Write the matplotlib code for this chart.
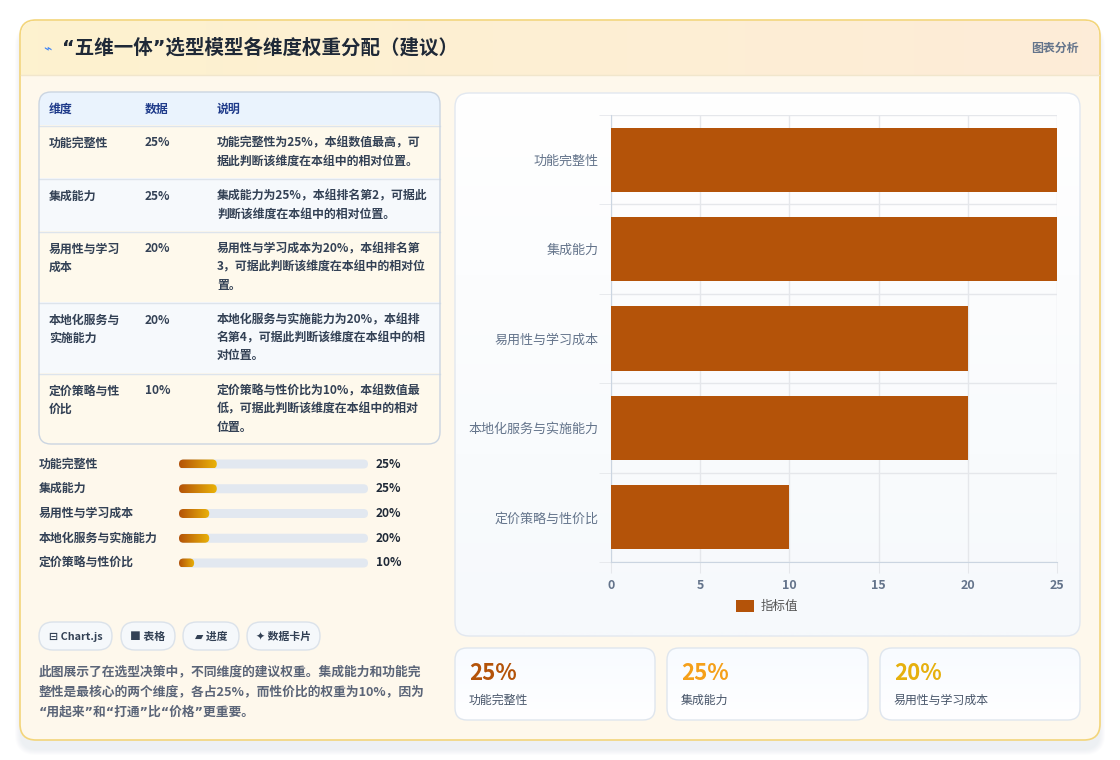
import numpy as np
import matplotlib
matplotlib.use("Agg")
import matplotlib.pyplot as plt
from matplotlib.patches import FancyBboxPatch
from matplotlib.colors import to_rgb

plt.rcParams['font.family'] = ['Noto Sans CJK SC', 'DejaVu Sans']
QUOTE_FAMILY = ['DejaVu Sans', 'Noto Sans CJK SC']  # narrow curly quotes

# data
dims = ['功能完整性', '集成能力', '易用性与学习成本', '本地化服务与实施能力', '定价策略与性价比']
values = [25, 25, 20, 20, 10]
dim_cells = ['功能完整性', '集成能力', '易用性与学习\n成本', '本地化服务与\n实施能力', '定价策略与性\n价比']
descs = [
    '功能完整性为25%，本组数值最高，可\n据此判断该维度在本组中的相对位置。',
    '集成能力为25%，本组排名第2，可据此\n判断该维度在本组中的相对位置。',
    '易用性与学习成本为20%，本组排名第\n3，可据此判断该维度在本组中的相对位\n置。',
    '本地化服务与实施能力为20%，本组排\n名第4，可据此判断该维度在本组中的相\n对位置。',
    '定价策略与性价比为10%，本组数值最\n低，可据此判断该维度在本组中的相对\n位置。',
]
table_head = ['维度', '数据', '说明']
buttons = ['⊟ Chart.js', '■ 表格', '▰ 进度', '✦ 数据卡片']
summary = ['此图展示了在选型决策中，不同维度的建议权重。集成能力和功能完',
           '整性是最核心的两个维度，各占25%，而性价比的权重为10%，因为',
           '“用起来”和“打通”比“价格”更重要。']
card_idx = [0, 1, 2]
card_colors = ['#b45309', '#f5a01a', '#e6b00e']

W, H = 1120, 760
fig = plt.figure(figsize=(W / 100, H / 100), dpi=100)
fig.patch.set_facecolor('white')
bg = fig.add_axes([0, 0, 1, 1])
bg.set_xlim(0, W)
bg.set_ylim(H, 0)
bg.axis('off')


def rbox(x, y, w, h, r, fc, ec='none', lw=1, z=1, alpha=1):
    p = FancyBboxPatch((x, y), w, h, boxstyle=f'round,pad=0,rounding_size={r}',
                       fc=fc, ec=ec, lw=lw, zorder=z, alpha=alpha)
    bg.add_patch(p)
    return p


def grad(x, y, w, h, r, c0, c1, horiz=True, z=1, ec='none', lw=1):
    p = rbox(x, y, w, h, r, 'none', ec, lw, z + 0.1)
    t = np.linspace(0, 1, 64)
    a, b = np.array(to_rgb(c0)), np.array(to_rgb(c1))
    cols = a[None, :] * (1 - t[:, None]) + b[None, :] * t[:, None]
    img = cols[None, :, :] if horiz else cols[:, None, :]
    im = bg.imshow(img, extent=(x, x + w, y + h, y), origin='upper',
                   aspect='auto', zorder=z, interpolation='bilinear')
    im.set_clip_path(p)
    return p


# outer card with soft shadow
for k in range(6):
    rbox(20 - k, 24 - k + 6, 1080 + 2 * k, 720 + 2 * k, 16 + k, '#94a3b8', z=0.2, alpha=0.025)
rbox(20, 20, 1080, 720, 16, '#fef8ec', '#f3d57a', 1.2, z=0.5)
# header band
hdr = FancyBboxPatch((21, 21), 1078, 54, boxstyle='round,pad=0,rounding_size=15',
                     fc='none', ec='none', zorder=0.7)
bg.add_patch(hdr)
t = np.linspace(0, 1, 64)
hc = np.array(to_rgb('#fdf2cf'))[None, :] * (1 - t[:, None]) + np.array(to_rgb('#fdecd8'))[None, :] * t[:, None]
im = bg.imshow(hc[None], extent=(21, 1099, 75, 21), aspect='auto', zorder=0.6)
im.set_clip_path(hdr)
bg.imshow(hc[None], extent=(21, 1099, 75, 50), aspect='auto', zorder=0.6)
bg.plot([21, 1099], [75, 75], color='#f1e6cc', lw=1, zorder=0.8)
bg.set_xlim(0, W)
bg.set_ylim(H, 0)

bg.text(47, 48, '⌁', color='#3b82f6', fontsize=10, ha='center', va='center', zorder=2)
bg.text(62, 48, '“五维一体”选型模型各维度权重分配（建议）', fontsize=14, fontweight='bold',
        family=QUOTE_FAMILY, color='#1f2937', va='center', ha='left', zorder=2)
bg.text(1079, 48, '图表分析', fontsize=8.6, fontweight='bold', color='#64748b',
        va='center', ha='right', zorder=2)

# table
tx, ty, tw = 39, 92, 401
row_edges = [126, 179, 232, 303, 374, 444]
tab = rbox(tx, ty, tw, row_edges[-1] - ty, 12, 'none', '#cbd5e1', 1, z=3)
clip = FancyBboxPatch((tx, ty), tw, row_edges[-1] - ty, boxstyle='round,pad=0,rounding_size=12',
                      fc='none', ec='none')
bg.add_patch(clip)
r = bg.fill_between([tx, tx + tw], ty, row_edges[0], color='#eaf3fd', zorder=1.5)
r.set_clip_path(clip)
for i in range(len(dims)):
    fc = '#fef9ec' if i % 2 == 0 else '#f6f9fc'
    r = bg.fill_between([tx, tx + tw], row_edges[i], row_edges[i + 1], color=fc, zorder=1.5)
    r.set_clip_path(clip)
for yv in row_edges[:-1]:
    bg.plot([tx, tx + tw], [yv, yv], color='#dde4ec', lw=1, zorder=2)
col_x = [49, 145, 217]
for cx, h in zip(col_x, table_head):
    bg.text(cx, 109, h, fontsize=8.6, fontweight='bold', color='#1e3a8a', va='center', zorder=4)
for i in range(len(dims)):
    y0 = row_edges[i] + 17
    for cx, txt in zip(col_x, [dim_cells[i], f'{values[i]}%', descs[i]]):
        for j, line in enumerate(txt.split('\n')):
            bg.text(cx, y0 + 18 * j, line, fontsize=8.6, fontweight='bold', color='#334155',
                    va='center', zorder=4)

# progress bars
track_x, track_w, track_max = 179, 189, 125
for i, (d, v) in enumerate(zip(dims, values)):
    yc = 464 + 24.75 * i
    bg.text(39, yc, d, fontsize=8.6, fontweight='bold', color='#334155', va='center', zorder=4)
    rbox(track_x, yc - 4.5, track_w, 9, 4.5, '#e2e8f0', z=2)
    grad(track_x, yc - 4.5, track_w * v / track_max, 9, 4.5, '#b45309', '#eab308', z=3)
    bg.text(376, yc, f'{v}%', fontsize=8.6, fontweight='bold', color='#1f2937', va='center', zorder=4)

# buttons
btn_x = [(39, 112), (121, 175), (183, 239), (247, 320)]
for (x0, x1), b in zip(btn_x, buttons):
    rbox(x0, 622, x1 - x0, 28, 14, '#f5f8fb', '#dbe2ea', 1, z=2)
    bg.text((x0 + x1) / 2, 636.5, b, fontsize=7.8, fontweight='bold', color='#334155',
            ha='center', va='center', zorder=3)

for j, line in enumerate(summary):
    fam = QUOTE_FAMILY if '“' in line else None
    bg.text(39, 672 + 20 * j, line, fontsize=9.2, fontweight='bold', color='#5b6578',
            family=fam, va='center', zorder=3)

# chart panel
grad(455, 93, 625, 543, 14, '#ffffff', '#f6f9fc', horiz=False, z=1, ec='#e2e8f0', lw=1)

# stat cards
card_x = [(455, 655), (667, 868), (880, 1080)]
for (x0, x1), k, c in zip(card_x, card_idx, card_colors):
    grad(x0, 648, x1 - x0, 72, 12, '#f8fbff', '#ffffff', horiz=False, z=1, ec='#dfe6ee', lw=1)
    bg.text(x0 + 14, 674, f'{values[k]}%', fontsize=16, fontweight='heavy', color=c,
            va='center', zorder=3)
    bg.text(x0 + 14, 700, dims[k], fontsize=8.6, color='#475569', va='center', zorder=3)

bg.set_xlim(0, W)
bg.set_ylim(H, 0)

# bar chart
ax = fig.add_axes([611 / W, 1 - 562 / H, (1057 - 611) / W, (562 - 115) / H])
ax.patch.set_alpha(0)
ypos = np.arange(len(dims))
ax.barh(ypos, values, height=0.72, color='#b45309', label='指标值', zorder=3)
ax.set_ylim(len(dims) - 0.5, -0.5)
ax.set_xlim(0, 25)
ax.set_xticks(range(0, 26, 5))
ax.set_yticks(ypos)
ax.set_yticklabels(dims)
ax.set_yticks(np.arange(-0.5, len(dims), 1), minor=True)
ax.grid(axis='x', color='#e5e7eb', lw=1, zorder=0)
ax.grid(axis='y', which='minor', color='#e5e7eb', lw=1, zorder=0)
ax.tick_params(axis='x', length=8, color='#e5e7eb', pad=4, labelsize=9, labelcolor='#64748b')
ax.tick_params(axis='y', which='major', length=0, pad=9, labelsize=9.4, labelcolor='#64748b')
ax.tick_params(axis='y', which='minor', length=9, color='#e5e7eb')
for lab in ax.get_xticklabels():
    lab.set_fontweight('bold')
for s in ['top', 'right']:
    ax.spines[s].set_visible(False)
ax.spines['left'].set_color('#cbd5e1')
ax.spines['bottom'].set_color('#cbd5e1')
ax.legend(loc='center', bbox_to_anchor=(0.35, -0.10), frameon=False, fontsize=9,
          handlelength=1.4, handleheight=1.0, handletextpad=0.5, labelcolor='#555555')

fig.savefig('out.png', dpi=100, facecolor='white')
